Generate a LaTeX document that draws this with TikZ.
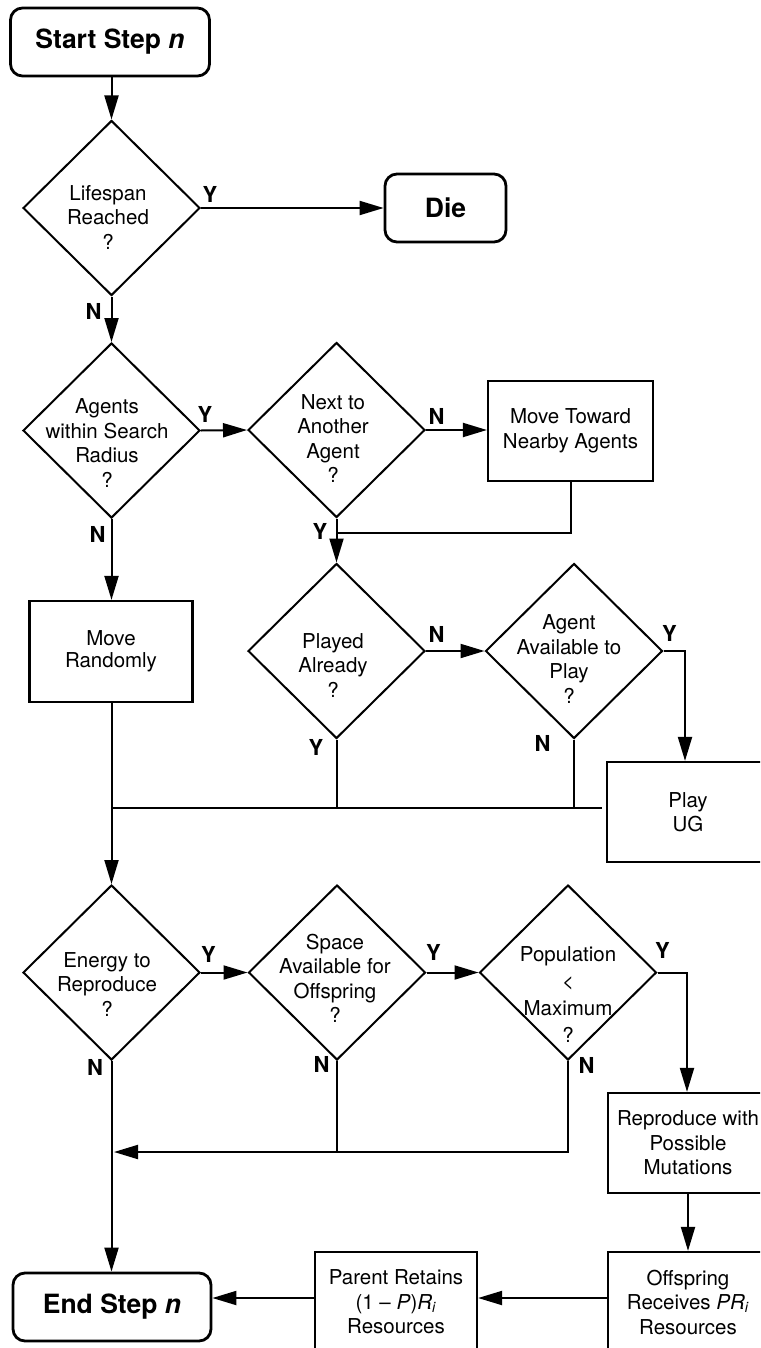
\documentclass[tikz,border=0pt]{standalone}
\usepackage{fontspec}
\setmainfont{TeX Gyre Heros}
\usetikzlibrary{arrows.meta,shapes.geometric}
\newcommand\normtext{\fontsize{20.5}{24.5}\selectfont}
\newcommand\titletext{\fontsize{26.5}{30}\selectfont\bfseries}
\newcommand\yntext{\fontsize{22}{24}\selectfont\bfseries}
\begin{document}
\begin{tikzpicture}[x=1pt,y=-1pt,
  dia/.style={draw, shape=diamond, line width=2pt, minimum width=177pt, minimum height=175pt, inner sep=0pt},
  box/.style={draw, rectangle, line width=2.2pt, inner sep=0pt, align=center, font=\normtext},
  term/.style={draw, rectangle, rounded corners=12pt, line width=2.8pt, inner sep=0pt, font=\titletext, minimum height=68pt},
  txt/.style={inner sep=0pt, align=center, font=\normtext},
  yn/.style={inner sep=0pt, font=\yntext},
  conn/.style={line width=2pt},
  arr/.style={conn, -{Triangle[length=24pt,width=14pt]}}
]
\useasboundingbox (0,0) rectangle (760,1348);
\clip (0,0) rectangle (760,1348);

% nodes
\node[term, minimum width=199pt] (St) at (110,42) {Start Step \textit{n}};
\node[dia] (L) at (111.5,208) {};
\node[txt] (Lt) at (108,217) {Lifespan\\Reached\\?};
\node[term, minimum width=121pt] (Die) at (445.5,208) {Die};
\node[dia] (A) at (111.5,430.5) {};
\node[txt] (At) at (107,443) {Agents\\within Search\\Radius\\?};
\node[dia] (Nx) at (336.5,430) {};
\node[txt] (Nxt) at (333,438.5) {Next to\\Another\\Agent\\?};
\node[box, minimum width=165pt, minimum height=100pt] (MT) at (570.5,431) {Move Toward\\Nearby Agents};
\node[box, minimum width=163pt, minimum height=101pt, font=\fontsize{20.5}{22.5}\selectfont] (MR) at (111,651.5) {Move\\Randomly};
\node[dia] (P) at (336.5,651) {};
\node[txt] (Pt) at (333,665.5) {Played\\Already\\?};
\node[dia] (AA) at (574,651) {};
\node[txt] (AAt) at (569,659) {Agent\\Available to\\Play\\?};
\node[box, minimum width=162pt, minimum height=100pt] (PUG) at (688,812) {Play\\UG};
\node[dia] (E) at (111.5,972.5) {};
\node[txt] (Et) at (107,984.5) {Energy to\\Reproduce\\?};
\node[dia] (S) at (337,972.5) {};
\node[txt] (St2) at (335,978.5) {Space\\Available for\\Offspring\\?};
\node[dia] (Pop) at (568,972.5) {};
\node[txt, font=\fontsize{20.5}{27}\selectfont] (Popt) at (568,995) {Population\\<\\Maximum\\?};
\node[box, minimum width=160pt, minimum height=100pt] (RM) at (688,1143) {Reproduce with\\Possible\\Mutations};
\node[box, minimum width=160pt, minimum height=100pt] (OR) at (688,1302) {Offspring\\Receives \textit{PR}\textsubscript{\textit{i}}\\Resources};
\node[box, minimum width=162pt, minimum height=100pt] (PR) at (396,1302) {Parent Retains\\(1 – \textit{P})\textit{R}\textsubscript{\textit{i}}\\Resources};
\node[term, minimum width=198pt] (End) at (112,1307) {End Step \textit{n}};

% labels
\node[yn] (yL) at (210,194.5) {Y};
\node[yn] (nL) at (93.5,311) {N};
\node[yn] (yA) at (205,414) {Y};
\node[yn] (nA) at (97.5,534) {N};
\node[yn] (nNx) at (436.5,416) {N};
\node[yn] (yNx) at (320,531) {Y};
\node[yn] (nP) at (436.5,634) {N};
\node[yn] (yAA) at (669.5,633) {Y};
\node[yn] (yP) at (316,747) {Y};
\node[yn] (nAA) at (542.5,743) {N};
\node[yn] (yE) at (208.5,954.5) {Y};
\node[yn] (yS) at (433.5,952.5) {Y};
\node[yn] (yPop) at (662.5,950) {Y};
\node[yn] (nE) at (95,1067.5) {N};
\node[yn] (nS) at (321.5,1064) {N};
\node[yn] (nPop) at (586.5,1065) {N};

% connectors
\draw[arr] (St.south -| L.north) -- (L.north);
\draw[arr] (L.east) -- (Die.west);
\draw[arr] (L.south) -- (A.north);
\draw[arr] (A.east) -- (Nx.west);
\draw[arr] (Nx.east) -- (Nx.east -| MT.west);
\coordinate (j1) at (336.5,533);
\draw[conn] (MT.south) |- (j1);
\draw[arr] (Nx.south) -- (P.north);
\draw[arr] (A.south) -- (A.south |- MR.north);
\draw[arr] (P.east) -- (AA.west);
\coordinate (c1) at (685,651);
\draw[arr] (AA.east) -- (c1) -- (c1 |- PUG.north);
\coordinate (j2) at (112,808);
\draw[conn] (P.south) -- (P.south |- j2);
\draw[conn] (AA.south) -- (AA.south |- j2);
\draw[conn] ([xshift=-4pt]PUG.west |- j2) -- (j2);
\draw[arr] (MR.south -| E.north) -- (E.north);
\draw[arr] (E.east) -- (S.west);
\draw[arr] (S.east) -- (Pop.west);
\coordinate (c2) at (687,972.5);
\draw[arr] (Pop.east) -- (c2) -- (c2 |- RM.north);
\draw[arr] (RM.south) -- (OR.north);
\coordinate (c3) at (0,1298);
\draw[arr] (OR.west |- c3) -- (PR.east |- c3);
\draw[arr] (PR.west |- c3) -- (End.east |- c3);
\draw[arr] (E.south) -- (E.south |- End.north);
\coordinate (j3) at (114,1152);
\draw[conn] (S.south) -- (S.south |- j3);
\draw[arr] (Pop.south) |- (j3);
\end{tikzpicture}
\end{document}
